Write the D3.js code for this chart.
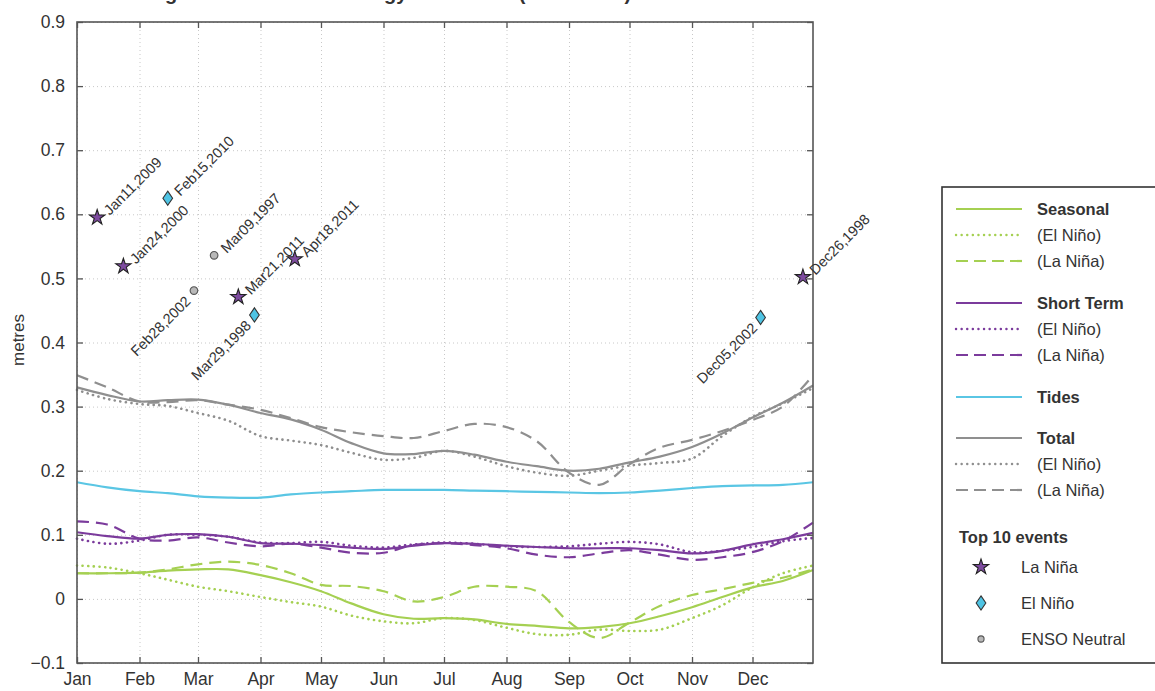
<!DOCTYPE html>
<html>
<head>
<meta charset="utf-8">
<script src="https://cdn.jsdelivr.net/npm/d3@7"></script>
<style>
body { margin: 0; background: #fff; }
svg text { font-family: "Liberation Sans", Arial, Helvetica, sans-serif; fill: #333; }
</style>
</head>
<body>
<svg id="chart" width="1155" height="691"></svg>
<script>
// day of year (leap reference year) where each curve value was read
const sampleDays = [0,15,31,45,60,75,91,106,121,136,152,167,182,197,213,228,244,259,274,289,305,320,335,350,365];

const seasonal       = [0.040,0.040,0.041,0.044,0.046,0.046,0.037,0.026,0.012,-0.007,-0.024,-0.031,-0.030,-0.032,-0.039,-0.042,-0.046,-0.044,-0.038,-0.027,-0.013,0.003,0.018,0.028,0.045];
const seasonalNino   = [0.052,0.049,0.040,0.030,0.019,0.012,0.003,-0.005,-0.012,-0.026,-0.035,-0.038,-0.030,-0.033,-0.045,-0.055,-0.056,-0.048,-0.050,-0.048,-0.030,-0.010,0.018,0.040,0.052];
const seasonalNina   = [0.040,0.040,0.041,0.046,0.054,0.058,0.053,0.040,0.022,0.020,0.012,-0.004,0.003,0.019,0.019,0.012,-0.036,-0.061,-0.037,-0.011,0.006,0.015,0.025,0.033,0.046];
const shortTerm      = [0.104,0.098,0.094,0.100,0.101,0.097,0.087,0.086,0.084,0.080,0.078,0.083,0.087,0.086,0.083,0.081,0.079,0.079,0.079,0.076,0.071,0.075,0.085,0.093,0.103];
const shortTermNino  = [0.094,0.086,0.091,0.100,0.100,0.097,0.088,0.087,0.089,0.083,0.080,0.085,0.088,0.086,0.082,0.081,0.082,0.086,0.089,0.085,0.073,0.075,0.081,0.090,0.095];
const shortTermNina  = [0.121,0.116,0.094,0.091,0.096,0.088,0.082,0.086,0.080,0.072,0.072,0.084,0.087,0.084,0.079,0.069,0.065,0.071,0.076,0.069,0.061,0.065,0.073,0.090,0.119];
const tides          = [0.182,0.174,0.168,0.165,0.160,0.158,0.158,0.163,0.166,0.168,0.170,0.170,0.170,0.169,0.168,0.167,0.166,0.165,0.166,0.169,0.173,0.176,0.177,0.178,0.182];
const total          = [0.330,0.318,0.308,0.310,0.311,0.303,0.290,0.280,0.264,0.243,0.227,0.226,0.231,0.225,0.214,0.207,0.200,0.203,0.213,0.222,0.237,0.258,0.283,0.306,0.333];
const totalNino      = [0.326,0.312,0.304,0.301,0.290,0.278,0.254,0.247,0.240,0.228,0.217,0.220,0.231,0.222,0.207,0.197,0.192,0.200,0.208,0.212,0.219,0.254,0.284,0.305,0.329];
const totalNina      = [0.349,0.330,0.308,0.307,0.310,0.303,0.295,0.282,0.268,0.260,0.254,0.251,0.262,0.273,0.268,0.246,0.197,0.178,0.210,0.236,0.248,0.262,0.279,0.300,0.349];

// top 10 events
const eventDates  = ["2009-01-11","2000-01-24","2010-02-15","2002-02-28","1997-03-09","2011-03-21","1998-03-29","2011-04-18","2002-12-05","1998-12-26"];
const eventValues = [0.595,0.519,0.625,0.481,0.536,0.471,0.443,0.530,0.439,0.502];
const eventTypes  = ["La Niña","La Niña","El Niño","ENSO Neutral","ENSO Neutral","La Niña","El Niño","La Niña","El Niño","La Niña"];
const labelSide   = ["right","right","right","left","right","right","left","right","left","right"];

const yTicks = [-0.1,0,0.1,0.2,0.3,0.4,0.5,0.6,0.7,0.8,0.9];

const svg = d3.select("#chart");
const pLeft = 77, pRight = 813, pTop = 22, pBottom = 663;

const refDate = d => new Date(2000, 0, 1 + d);
const x = d3.scaleTime().domain([new Date(2000,0,1), new Date(2000,11,31)]).range([pLeft, pRight]);
const y = d3.scaleLinear().domain([-0.1, 0.9]).range([pBottom, pTop]);

const GREEN = "#a5d052", PURPLE = "#7b3b9c", CYAN = "#5ac6e4", GRAY = "#8f8f8f";
const DOT = "0.1,5.5", DASH = "12,7";

const series = [
  {values: total, color: GRAY, dash: null},
  {values: totalNino, color: GRAY, dash: DOT},
  {values: totalNina, color: GRAY, dash: DASH},
  {values: tides, color: CYAN, dash: null},
  {values: shortTerm, color: PURPLE, dash: null},
  {values: shortTermNino, color: PURPLE, dash: DOT},
  {values: shortTermNina, color: PURPLE, dash: DASH},
  {values: seasonal, color: GREEN, dash: null},
  {values: seasonalNino, color: GREEN, dash: DOT},
  {values: seasonalNina, color: GREEN, dash: DASH}
];

// grid
svg.append("g")
  .attr("transform", `translate(${pLeft},0)`)
  .call(d3.axisLeft(y).tickValues(yTicks).tickSize(-(pRight - pLeft)).tickFormat(""))
  .call(g => g.select(".domain").remove())
  .selectAll("line").attr("stroke", "#c8c8c8").attr("stroke-dasharray", "1,3");

svg.append("g")
  .attr("transform", `translate(0,${pBottom})`)
  .call(d3.axisBottom(x).ticks(d3.timeMonth.every(1)).tickSize(-(pBottom - pTop)).tickFormat(""))
  .call(g => g.select(".domain").remove())
  .selectAll("line").attr("stroke", "#c8c8c8").attr("stroke-dasharray", "1,3");

// curves
const line = d3.line()
  .x((d, i) => x(refDate(sampleDays[i])))
  .y(d => y(d))
  .curve(d3.curveCatmullRom.alpha(0.5));

svg.append("g").selectAll("path")
  .data(series)
  .join("path")
  .attr("d", d => line(d.values))
  .attr("fill", "none")
  .attr("stroke", d => d.color)
  .attr("stroke-width", d => d.dash === DOT ? 2.6 : 2.2)
  .attr("stroke-linecap", d => d.dash === DOT ? "round" : "butt")
  .attr("stroke-dasharray", d => d.dash);

// axes (MATLAB style: ticks pointing inward on all four sides)
const fmtY = d => d === 0 ? "0" : d3.format(".1f")(d);
const styleAxis = g => {
  g.select(".domain").remove();
  g.selectAll(".tick line").attr("stroke", "#555").attr("stroke-width", 1.3);
  g.selectAll("text").style("font-size", "17.5px").attr("fill", "#333");
};
svg.append("g").attr("transform", `translate(${pLeft},0)`)
  .call(d3.axisLeft(y).tickValues(yTicks).tickSize(-6).tickPadding(12).tickFormat(fmtY)).call(styleAxis);
svg.append("g").attr("transform", `translate(${pRight},0)`)
  .call(d3.axisRight(y).tickValues(yTicks).tickSize(-6).tickFormat("")).call(styleAxis);
svg.append("g").attr("transform", `translate(0,${pBottom})`)
  .call(d3.axisBottom(x).ticks(d3.timeMonth.every(1)).tickSize(-6).tickPadding(10).tickFormat(d3.timeFormat("%b"))).call(styleAxis);
svg.append("g").attr("transform", `translate(0,${pTop})`)
  .call(d3.axisTop(x).ticks(d3.timeMonth.every(1)).tickSize(-6).tickFormat("")).call(styleAxis);

svg.append("rect")
  .attr("x", pLeft).attr("y", pTop).attr("width", pRight - pLeft).attr("height", pBottom - pTop)
  .attr("fill", "none").attr("stroke", "#555").attr("stroke-width", 1.6);

// y label
svg.append("text")
  .attr("transform", `translate(24,340) rotate(-90)`)
  .attr("text-anchor", "middle")
  .style("font-size", "17px")
  .text("metres");

// title (cut off at the top edge, as in the source picture)
svg.append("text")
  .attr("x", 145).attr("y", -0.5)
  .style("font-size", "20px").style("font-weight", "bold").attr("fill", "#222")
  .text("High Sea Level Climatology Anomalies (1997–2011)");

// event markers
const diamond = { draw(ctx, size) { const h = Math.sqrt(size) * 0.95, w = h * 0.68;
  ctx.moveTo(0, -h); ctx.lineTo(w, 0); ctx.lineTo(0, h); ctx.lineTo(-w, 0); ctx.closePath(); } };
const markerStyle = {
  "La Niña": {type: d3.symbolStar, size: 72, fill: "#7d4b9f", stroke: "#222"},
  "El Niño": {type: diamond, size: 56, fill: "#4fc4e4", stroke: "#333"},
  "ENSO Neutral": {type: d3.symbolCircle, size: 46, fill: "#b8b8b8", stroke: "#555"}
};
const parse = d3.timeParse("%Y-%m-%d");
const fmtEvent = d3.timeFormat("%b%d,%Y");
const events = eventDates.map((s, i) => {
  const dt = parse(s);
  return {date: dt, pos: new Date(2000, dt.getMonth(), dt.getDate()), value: eventValues[i], type: eventTypes[i], side: labelSide[i]};
});

const ev = svg.append("g").selectAll("g")
  .data(events)
  .join("g")
  .attr("transform", d => `translate(${x(d.pos)},${y(d.value)})`);

ev.append("path")
  .attr("d", d => d3.symbol().type(markerStyle[d.type].type).size(markerStyle[d.type].size)())
  .attr("fill", d => markerStyle[d.type].fill)
  .attr("stroke", d => markerStyle[d.type].stroke)
  .attr("stroke-width", 1.1);

ev.append("text")
  .attr("transform", d => d.side === "right" ? "translate(9,-5) rotate(-45)" : "translate(-6,8) rotate(-45)")
  .attr("text-anchor", d => d.side === "right" ? "start" : "end")
  .attr("dy", "0.35em")
  .style("font-size", "14.5px")
  .text(d => fmtEvent(d.date));

// legend
const lg = svg.append("g");
lg.append("rect").attr("x", 942).attr("y", 187).attr("width", 240).attr("height", 476)
  .attr("fill", "#fff").attr("stroke", "#333").attr("stroke-width", 1.6);

const legendGroups = [
  {title: "Seasonal", color: GREEN, subs: true},
  {title: "Short Term", color: PURPLE, subs: true},
  {title: "Tides", color: CYAN, subs: false},
  {title: "Total", color: GRAY, subs: true}
];
const legendRows = [];
let ly = 209;
legendGroups.forEach(g => {
  legendRows.push({label: g.title, color: g.color, dash: null, bold: true, y: ly});
  if (g.subs) {
    legendRows.push({label: "(El Niño)", color: g.color, dash: DOT, bold: false, y: ly + 26});
    legendRows.push({label: "(La Niña)", color: g.color, dash: DASH, bold: false, y: ly + 52});
    ly += 94;
  } else {
    ly += 41;
  }
});

const lr = lg.selectAll("g.row").data(legendRows).join("g").attr("class", "row")
  .attr("transform", d => `translate(0,${d.y})`);
lr.append("line").attr("x1", 956).attr("x2", 1022)
  .attr("stroke", d => d.color)
  .attr("stroke-width", d => d.dash === DOT ? 2.4 : 2.2)
  .attr("stroke-linecap", d => d.dash === DOT ? "round" : "butt")
  .attr("stroke-dasharray", d => d.dash === DOT ? "0.1,5.5" : d.dash === DASH ? "12,6" : null);
lr.append("text").attr("x", 1037).attr("dy", "0.35em")
  .style("font-size", "16.5px")
  .style("font-weight", d => d.bold ? "bold" : "normal")
  .attr("fill", d => d.bold ? "#222" : "#444")
  .text(d => d.label);

lg.append("text").attr("x", 959).attr("y", 537).attr("dy", "0.35em")
  .style("font-size", "16.5px").style("font-weight", "bold").attr("fill", "#222")
  .text("Top 10 events");

const typeOrder = ["La Niña", "El Niño", "ENSO Neutral"];
const er = lg.selectAll("g.ev").data(typeOrder).join("g").attr("class", "ev")
  .attr("transform", (d, i) => `translate(981,${567 + i * 36})`);
er.append("path")
  .attr("d", d => d3.symbol().type(markerStyle[d].type).size(d === "ENSO Neutral" ? 30 : markerStyle[d].size)())
  .attr("fill", d => markerStyle[d].fill)
  .attr("stroke", d => markerStyle[d].stroke)
  .attr("stroke-width", 1.1);
er.append("text").attr("x", 40).attr("dy", "0.35em")
  .style("font-size", "16.5px").attr("fill", "#444")
  .text(d => d);
</script>
</body>
</html>
